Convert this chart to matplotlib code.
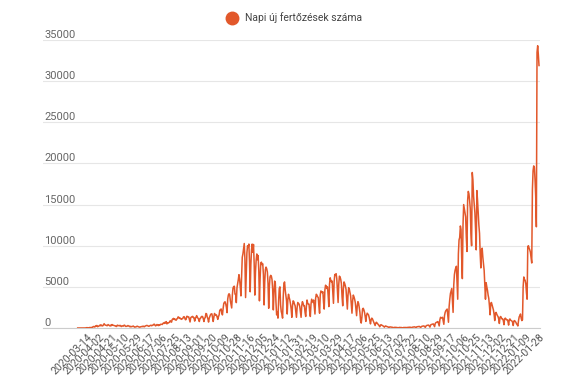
import matplotlib
matplotlib.use('Agg')
import matplotlib.pyplot as plt
from matplotlib.lines import Line2D
import numpy as np
import pandas as pd

plt.rcParams['font.family'] = ['Roboto', 'DejaVu Sans']

# daily new cases (weeks run Sat..Fri)
cases_2020 = [
    0, 0, 0, 0, 1, 1, 2,
    2, 2, 5, 10, 13, 4, 40,
    31, 38, 21, 26, 62, 31, 64,
    59, 66, 143, 186, 144, 123, 263,
    240, 308, 161, 193, 250, 267, 378,
    270, 361, 256, 267, 377, 523, 399,
    345, 343, 289, 286, 419, 360, 310,
    241, 352, 283, 422, 333, 333, 306,
    271, 269, 190, 190, 343, 306, 283,
    260, 327, 251, 179, 232, 265, 226,
    329, 341, 225, 187, 213, 239, 301,
    247, 233, 150, 199, 150, 180, 193,
    240, 177, 106, 128, 130, 172, 222,
    178, 147, 119, 97, 140, 157, 180,
    166, 229, 166, 151, 241, 261, 305,
    308, 277, 213, 214, 262, 320, 327,
    271, 330, 340, 445, 460, 325, 256,
    353, 424, 372, 291, 392, 320, 425,
    460, 440, 428, 555, 614, 555, 698,
    601, 777, 501, 611, 601, 667, 698,
    889, 777, 709, 1030, 1112, 1166, 1030,
    1109, 976, 950, 1104, 1151, 1356, 1295,
    1165, 1210, 1107, 1053, 1120, 1154, 1345,
    1378, 1215, 1001, 1041, 1415, 1408, 1345,
    1344, 1060, 733, 1237, 1329, 1378, 1409,
    1269, 1264, 838, 1136, 1311, 1504, 1292,
    1195, 1052, 787, 1155, 1202, 1365, 1417,
    1378, 1145, 784, 1161, 1278, 1767, 1713,
    1339, 1121, 720, 1199, 1430, 1627, 1713,
    1724, 1304, 791, 1244, 1767, 1646, 1538,
    1585, 1303, 1048, 1378, 1592, 2158, 2224,
    2314, 1853, 1591, 2344, 2958, 3130, 3186,
    2919, 2526, 1864, 3517, 4016, 4169, 4038,
    3301, 2883, 2434, 3992, 4848, 5028, 5080,
    4117, 4074, 3082, 4887, 5376, 5879, 6481,
    5900, 5000, 3900, 6400, 8600, 9000, 9600,
    10269, 8400, 3700, 6600, 9100, 10000, 9800,
    10200, 8000, 4400, 7700, 9500, 10200, 9200,
    10150, 7900, 4000, 6800, 8200, 9000, 8300,
    8800, 7000, 3300, 6000, 7900, 8000, 7700,
    7800, 6500, 2800, 5600, 7100, 7400, 7200,
    6800, 5400, 2400, 5000, 6200, 6400, 6300,
    5900, 4700, 2200, 4300, 5700, 5500, 3100,
    1600, 1900, 1200, 3300, 4800, 5000,
]

cases_2021 = [
    2800,
    2000, 1700, 1200, 3800, 5400, 5600, 4600,
    4000, 3300, 1700, 3500, 4100, 3700, 3400,
    2900, 2300, 1300, 2700, 3300, 3200, 2900,
    2700, 2000, 1300, 2500, 3100, 3000, 2900,
    2600, 2000, 1300, 2700, 3200, 3000, 2700,
    2700, 1900, 1400, 2600, 3400, 3000, 2900,
    2900, 2000, 1400, 2900, 3500, 3300, 3100,
    3400, 2500, 1700, 3600, 4100, 4000, 3800,
    3700, 2600, 1800, 4000, 4500, 4400, 4300,
    4400, 3100, 2300, 4600, 5200, 5100, 4800,
    5000, 3900, 2600, 5300, 6100, 5800, 5600,
    5700, 4400, 3000, 5600, 6500, 6400, 6600,
    6000, 4500, 3100, 5300, 6300, 6200, 5900,
    5400, 3800, 2700, 4800, 5600, 5400, 5100,
    4700, 3400, 2300, 4000, 4900, 4700, 4300,
    3900, 2800, 1800, 3300, 4000, 3800, 3500,
    3100, 2300, 1500, 2700, 3200, 3000, 2500,
    1900, 900, 600, 1300, 2300, 2400, 2200,
    1900, 1400, 800, 1500, 1800, 1700, 1600,
    1300, 900, 500, 1000, 1200, 1100, 900,
    700, 500, 300, 600, 700, 600, 500,
    400, 300, 150, 350, 400, 350, 300,
    250, 200, 100, 200, 250, 200, 180,
    150, 100, 50, 120, 130, 110, 100,
    90, 60, 30, 70, 80, 75, 70,
    60, 40, 20, 55, 70, 60, 55,
    55, 35, 15, 60, 65, 60, 60,
    60, 40, 70, 75, 80, 90,
    100, 60, 30, 90, 110, 120, 130,
    140, 90, 50, 140, 160, 170, 180,
    190, 120, 60, 180, 210, 230, 240,
    250, 150, 80, 250, 300, 330, 340,
    350, 230, 110, 370, 420, 450, 480,
    500, 330, 160, 560, 650, 700, 740,
    780, 500, 250, 1000, 1300, 1200, 1250,
    1300, 900, 450, 1500, 1900, 2100, 2200,
    2300, 1500, 700, 2600, 3500, 4200, 4500,
    4800, 3300, 1900, 5200, 6500, 7000, 7300,
    7500, 5500, 3500, 9000, 10700, 11000, 12400,
    12000, 8500, 6000, 12500, 15000, 14500, 14000,
    13500, 11000, 9300, 15500, 16600, 16300, 15500,
    14500, 11500, 10000, 18900, 18000, 16000, 15000,
    14000, 12000, 9500, 16700, 15500, 14000, 12500,
    11500, 9000, 7300, 9500, 9700, 8600, 7800,
    7000, 5300, 3500, 5500, 5000, 4600, 4000,
    3600, 2700, 1600, 3000, 3100, 2800, 2500,
    2200, 1700, 900, 1800, 1900, 1700, 1500,
    1400, 1100, 550, 1300, 1400, 1250, 1100,
    1100, 900, 400, 1100, 1200, 1100, 1000,
    1000, 800, 350, 1000, 1100, 950, 900,
    850, 700, 300, 850, 900, 800, 700,
    500, 400, 250, 900, 1350, 1500, 1700,
]

cases_2022 = [
    1200, 900, 1000, 5000, 6200, 5900, 5800,
    5400, 4300, 3500, 9900, 10000, 9700, 9500,
    9200, 8600, 7900, 16800, 19100, 19700, 19500,
    18000, 16000, 12300, 33500, 34300, 33200, 31900,
]

missing_day = '2021-07-12'   # not in the source table
y_ticks = [0, 5000, 10000, 15000, 20000, 25000, 30000, 35000]
first_label = 14             # 2020-03-14
label_step = 19
series_name = 'Napi új fertőzések száma'
orange = '#e2582b'

dates = pd.date_range('2020-02-29', '2022-01-28')
dates = dates[dates != pd.Timestamp(missing_day)]
cases = np.array(cases_2020 + cases_2021 + cases_2022)
x = np.arange(len(dates))

fig = plt.figure(figsize=(5.86, 3.85), dpi=100)
ax = fig.add_axes([43 / 586, 1 - 328 / 385, 497 / 586, 288 / 385])

ax.plot(x, cases, color=orange, lw=1.1, solid_joinstyle='round')

ax.set_ylim(0, 35000)
ax.set_xlim(-52.5, len(x) + 0.5)

for s in ax.spines.values():
    s.set_visible(False)
ax.grid(axis='y', color='#e6e6e6', lw=0.8)
ax.set_axisbelow(True)
ax.axhline(0, color='#cccccc', lw=0.8, clip_on=False, zorder=0)

# y labels sit just above the gridlines, inside the plot
ax.set_yticks(y_ticks)
ax.set_yticklabels([str(v) for v in y_ticks])
ax.tick_params(axis='y', length=0, pad=-1, labelsize=8, labelcolor='#666666')
for lab in ax.get_yticklabels():
    lab.set_ha('left')
    lab.set_va('bottom')

tick_idx = list(range(first_label, len(dates), label_step))
ax.set_xticks(tick_idx)
ax.set_xticklabels([dates[i].strftime('%Y-%m-%d') for i in tick_idx],
                   rotation=45, ha='right', rotation_mode='anchor')
ax.tick_params(axis='x', length=0, pad=3, labelsize=7.6, labelcolor='#555555')

handle = Line2D([], [], marker='o', ls='', color=orange, markersize=9)
ax.legend([handle], [series_name], loc='center',
          bbox_to_anchor=(0.498, 1 - 18 / 385), bbox_transform=fig.transFigure,
          frameon=False, fontsize=7.5, handletextpad=0.3, labelcolor='#444444')

fig.savefig('out.png', dpi=100)
